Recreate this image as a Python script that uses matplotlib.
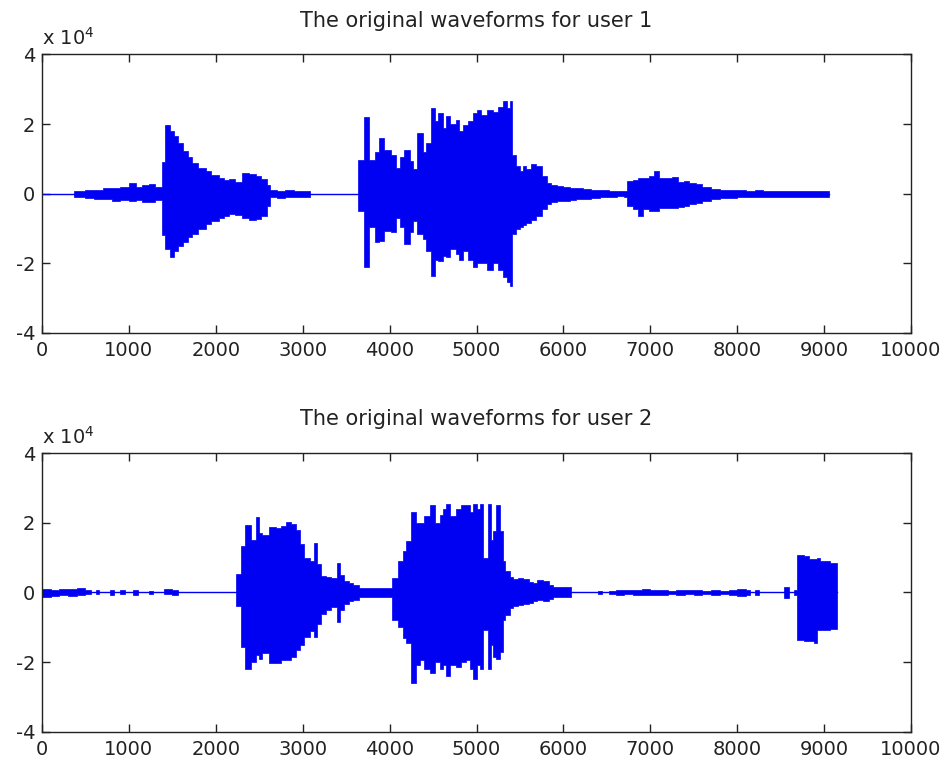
import matplotlib
matplotlib.use("Agg")
import matplotlib.pyplot as plt
import numpy as np

# ---- Data: envelope of each waveform (sample index, upper peak, lower peak) ----
user1_x = [0, 370, 500, 600, 700, 800, 900, 1000, 1080, 1150, 1230, 1300, 1385, 1420, 1470, 1520, 1570,
           1620, 1680, 1730, 1800, 1885, 1950, 2040, 2100, 2150, 2220, 2300, 2380, 2460, 2520, 2590,
           2620, 2700, 2800, 2900, 3000, 3080, 3640, 3700, 3760, 3830, 3880, 3940, 4020, 4075, 4120,
           4170, 4230, 4268, 4310, 4380, 4421, 4479, 4520, 4556, 4610, 4652, 4700, 4767, 4800, 4844,
           4900, 4960, 5000, 5056, 5120, 5190, 5250, 5306, 5350, 5383, 5413, 5460, 5498, 5540, 5575,
           5630, 5690, 5750, 5806, 5860, 5921, 6000, 6075, 6150, 6229, 6320, 6421, 6520, 6613, 6700,
           6729, 6800, 6864, 6920, 6980, 7037, 7100, 7190, 7250, 7320, 7383, 7450, 7520, 7600, 7700,
           7800, 7900, 8000, 8100, 8200, 8300, 8400, 8500, 8600, 8700, 8800, 8900, 9000, 9055]
user1_upper = [0, 800, 1000, 1200, 1500, 1700, 1800, 3000, 2000, 2500, 2800, 1800, 9000, 19600, 18000, 16500, 14500,
               12200, 10500, 8900, 7500, 6500, 5500, 4600, 3800, 4100, 3500, 6000, 5800, 5000, 4200, 2500,
               1000, 800, 1000, 700, 800, 0, 9800, 22000, 9800, 12000, 16000, 12700, 11000, 7400, 10500,
               12700, 9500, 7000, 17400, 12000, 14600, 24600, 21000, 23100, 19000, 22200, 20000, 21200, 18000, 19800,
               21000, 23100, 24000, 22700, 24000, 23600, 25000, 26500, 24500, 26500, 11200, 8000, 6500, 8000, 7000,
               8500, 7900, 5000, 3100, 2500, 2200, 1800, 1700, 1600, 1400, 1200, 1000, 800, 700, 800,
               3600, 4000, 4600, 4500, 5000, 6500, 4500, 4600, 4700, 3500, 3600, 3000, 2700, 1800, 1300,
               1200, 1000, 1100, 800, 1000, 800, 900, 700, 900, 800, 700, 800, 900, 0]
user1_lower = [0, -800, -1200, -1400, -1500, -2000, -1700, -2200, -1800, -2500, -2300, -1900, -12000, -16000, -18300, -16400, -15000,
               -14000, -12500, -11600, -10000, -8800, -7800, -6900, -6300, -5900, -6200, -6900, -7600, -7300, -6300, -3500,
               -1000, -1200, -900, -1000, -900, 0, -5000, -21000, -9700, -14000, -13500, -10700, -11000, -6900, -9500,
               -14500, -11000, -7800, -11600, -13000, -16400, -23500, -19000, -19200, -18000, -18300, -16000, -17300, -19000, -16400,
               -19000, -21000, -20000, -20000, -22000, -20000, -22000, -24000, -25500, -26400, -11600, -10000, -9700, -9000, -8300,
               -7500, -6400, -4500, -3000, -2500, -2100, -2000, -1700, -1500, -1400, -1100, -1000, -800, -700, -900,
               -3500, -4500, -6400, -4500, -5000, -5000, -4000, -4000, -4200, -3800, -3500, -3000, -2600, -2000, -1400,
               -1300, -1200, -1000, -1000, -900, -1000, -800, -900, -800, -900, -800, -900, -1000, 0]

user2_x = [0, 100, 200, 300, 400, 500, 560, 620, 660, 780, 830, 900, 950, 1050, 1100, 1230, 1280, 1400, 1500,
           1560, 2230, 2290, 2340, 2400, 2460, 2500, 2537, 2614, 2690, 2750, 2806, 2860, 2921, 2970, 3018,
           3080, 3133, 3170, 3210, 3270, 3326, 3391, 3430, 3480, 3530, 3575, 3650, 4030, 4095, 4150, 4191,
           4249, 4300, 4345, 4400, 4460, 4520, 4575, 4620, 4652, 4700, 4767, 4820, 4883, 4920, 4960, 5000,
           5036, 5075, 5133, 5170, 5190, 5229, 5267, 5300, 5325, 5380, 5421, 5480, 5536, 5600, 5652, 5700,
           5767, 5830, 5883, 5950, 6082, 6400, 6440, 6520, 6600, 6700, 6800, 6900, 7000, 7100, 7200, 7300,
           7400, 7500, 7600, 7700, 7800, 7900, 8000, 8100, 8150, 8200, 8250, 8540, 8600, 8650, 8690, 8765,
           8830, 8880, 8920, 8957, 9073, 9150]
user2_upper = [1000, 800, 1000, 900, 1200, 600, 0, 700, 0, 600, 0, 700, 0, 600, 0, 500, 0, 900, 700,
               0, 5200, 13200, 19300, 15000, 21700, 17000, 16500, 18900, 18400, 19000, 20300, 19500, 18000, 14000, 9900,
               9000, 14200, 8000, 4700, 4500, 4200, 8500, 5000, 3300, 2600, 2200, 1300, 4200, 9000, 12000, 14600,
               23100, 19800, 19800, 22000, 25000, 20000, 22200, 24000, 25500, 22000, 24000, 25000, 25000, 23000, 25500, 24000,
               25500, 9900, 25500, 15000, 17500, 25000, 17500, 9000, 6000, 4500, 3800, 4000, 3800, 3000, 2800, 3500,
               3300, 2000, 1400, 1400, 0, 500, 0, 500, 700, 600, 800, 900, 600, 700, 500, 800,
               600, 700, 500, 600, 500, 800, 1100, 700, 0, 600, 0, 1500, 0, 800, 10800, 10400,
               9500, 9500, 10000, 9000, 8500, 0]
user2_lower = [-1200, -1000, -900, -1100, -800, -600, 0, -600, 0, -700, 0, -500, 0, -700, 0, -600, 0, -500, -700,
               0, -4000, -15600, -22000, -20000, -18000, -19000, -17500, -20300, -20300, -19500, -19300, -18500, -16500, -15000, -12700,
               -11000, -12700, -9000, -6100, -5000, -4200, -8500, -5000, -3300, -2600, -2200, -1300, -8000, -9900, -13000, -14600,
               -26000, -21000, -19300, -22000, -23100, -20000, -22000, -21000, -24000, -21000, -21500, -20000, -19300, -22000, -25000, -21000,
               -22000, -10800, -22000, -15000, -18500, -19000, -17000, -8000, -6600, -4500, -3800, -3500, -3300, -3000, -2400, -2200,
               -2400, -2000, -1400, -1300, 0, -500, 0, -500, -800, -600, -700, -900, -800, -700, -600, -700,
               -600, -700, -500, -700, -600, -700, -1000, -800, 0, -700, 0, -1500, 0, -800, -13700, -14100,
               -14000, -14500, -10800, -10800, -10400, 0]

titles = ["The original waveforms for user 1", "The original waveforms for user 2"]
x_ticks = [0, 1000, 2000, 3000, 4000, 5000, 6000, 7000, 8000, 9000, 10000]
y_ticks = [-40000, -20000, 0, 20000, 40000]
y_tick_labels = ["-4", "-2", "0", "2", "4"]

# ---- Figure ----
plt.rcParams['font.family'] = ['DejaVu Sans']
fig = plt.figure(figsize=(9.48, 7.66), dpi=100)
positions = [[0.0443, 0.5653, 0.9167, 0.3636], [0.0443, 0.0448, 0.9167, 0.3638]]
series = [(user1_x, user1_upper, user1_lower), (user2_x, user2_upper, user2_lower)]
wave_color = (0.0, 0.0, 0.95)

for pos, (xs, up, lo), title in zip(positions, series, titles):
    ax = fig.add_axes(pos)
    xs = np.asarray(xs, dtype=float)
    up = np.asarray(up, dtype=float)
    lo = np.asarray(lo, dtype=float)
    ax.fill_between(xs, lo, up, step='post', color=wave_color, linewidth=0.5, edgecolor=wave_color)
    ax.plot(xs, np.zeros_like(xs), color=wave_color, linewidth=1.0)
    ax.set_xlim(0, 10000)
    ax.set_ylim(-40000, 40000)
    ax.set_xticks(x_ticks)
    ax.set_xticklabels([str(t) for t in x_ticks])
    ax.set_yticks(y_ticks)
    ax.set_yticklabels(y_tick_labels)
    ax.tick_params(direction='in', length=6, width=1, top=True, right=True,
                   labelsize=14, colors='#222222')
    ax.tick_params(axis='x', pad=6)
    ax.tick_params(axis='y', pad=5)
    for sp in ax.spines.values():
        sp.set_linewidth(1.0)
        sp.set_color('#222222')
    ax.set_title(title, fontsize=15, pad=20, color='#222222')
    ax.text(0.0, 1.02, r'x 10$^4$', transform=ax.transAxes, fontsize=14,
            ha='left', va='bottom', color='#222222')

fig.savefig('out.png', dpi=100, facecolor='white')
